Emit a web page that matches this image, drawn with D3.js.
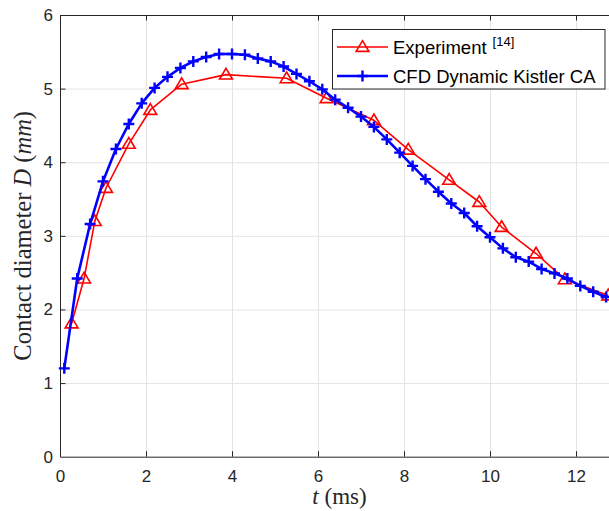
<!DOCTYPE html>
<html>
<head>
<meta charset="utf-8">
<script src="https://cdn.jsdelivr.net/npm/d3@7"></script>
<style>
  html, body { margin: 0; padding: 0; background: #fff; }
  svg { display: block; }
</style>
</head>
<body>
<svg id="chart" width="609" height="511"></svg>
<script>
// ---- data ----
const expT = [0.27, 0.56, 0.81, 1.07, 1.60, 2.10, 2.83, 3.86, 5.27, 6.20, 7.30, 8.10, 9.05, 9.75, 10.27, 11.07, 11.74, 12.75];
const expD = [1.81, 2.42, 3.20, 3.65, 4.25, 4.71, 5.06, 5.19, 5.14, 4.87, 4.57, 4.17, 3.76, 3.46, 3.12, 2.76, 2.41, 2.19];

const cfdT = [0.1, 0.4, 0.7, 1.0, 1.3, 1.6, 1.9, 2.2, 2.5, 2.8, 3.1, 3.4, 3.7, 4.0, 4.3, 4.6, 4.9, 5.2, 5.5, 5.8, 6.1, 6.4, 6.7, 7.0, 7.3, 7.6, 7.9, 8.2, 8.5, 8.8, 9.1, 9.4, 9.7, 10.0, 10.3, 10.6, 10.9, 11.2, 11.5, 11.8, 12.1, 12.4, 12.7];
const cfdD = [1.20, 2.42, 3.16, 3.74, 4.18, 4.52, 4.80, 5.01, 5.16, 5.28, 5.37, 5.43, 5.47, 5.47, 5.46, 5.41, 5.37, 5.30, 5.20, 5.10, 4.99, 4.85, 4.74, 4.62, 4.48, 4.31, 4.13, 3.95, 3.77, 3.60, 3.44, 3.31, 3.13, 2.98, 2.83, 2.71, 2.65, 2.55, 2.49, 2.42, 2.32, 2.24, 2.17];

const xTicks = [0, 2, 4, 6, 8, 10, 12];
const yTicks = [0, 1, 2, 3, 4, 5, 6];
const seriesNames = ["Experiment", "CFD Dynamic Kistler CA"];
const expRef = "[14]";

// ---- layout ----
const svg = d3.select("#chart");
const L = 60, R = 619, T = 15, B = 456.7;
const x = d3.scaleLinear().domain([0, 13]).range([L, R]);
const y = d3.scaleLinear().domain([0, 6]).range([B, T]);
const axisColor = "#262626";
const tickFont = "'Liberation Sans', Arial, Helvetica, sans-serif";
const serif = "'Liberation Serif', 'Times New Roman', serif";

// grid
const gx = svg.append("g").attr("transform", `translate(0,${B})`)
  .call(d3.axisBottom(x).tickValues(xTicks.slice(1)).tickSize(-(B - T)).tickFormat(""));
const gy = svg.append("g").attr("transform", `translate(${L},0)`)
  .call(d3.axisLeft(y).tickValues(yTicks.slice(1, -1)).tickSize(-(R - L)).tickFormat(""));
[gx, gy].forEach(g => {
  g.select(".domain").remove();
  g.selectAll("line").attr("stroke", "#e3e3e3").attr("stroke-width", 1);
});

// axes
const tk = 5.5;
const xAxis = svg.append("g").attr("transform", `translate(0,${B})`)
  .call(d3.axisBottom(x).tickValues(xTicks).tickSize(-tk).tickSizeOuter(0).tickPadding(13).tickFormat(d3.format("d")));
const xTop = svg.append("g").attr("transform", `translate(0,${T})`)
  .call(d3.axisTop(x).tickValues(xTicks).tickSize(-tk).tickSizeOuter(0).tickFormat(""));
const yAxis = svg.append("g").attr("transform", `translate(${L},0)`)
  .call(d3.axisLeft(y).tickValues(yTicks).tickSize(-tk).tickSizeOuter(0).tickPadding(7).tickFormat(d3.format("d")));
[xAxis, xTop, yAxis].forEach(g => {
  g.select(".domain").attr("stroke", axisColor).attr("stroke-width", 1);
  g.selectAll(".tick line").attr("stroke", axisColor).attr("stroke-width", 1);
  g.selectAll("text").attr("fill", axisColor).style("font-family", tickFont).style("font-size", "17px");
});
xAxis.selectAll(".tick").filter(d => d === 0).select("line").remove();
yAxis.selectAll(".tick").filter(d => d === 0 || d === 6).select("line").remove();

// axis titles
const xt = svg.append("text")
  .attr("x", (L + R) / 2).attr("y", 504)
  .attr("text-anchor", "middle")
  .style("font-family", serif).style("font-size", "23px").attr("fill", axisColor);
xt.append("tspan").attr("font-style", "italic").text("t");
xt.append("tspan").text(" (ms)");

const yt = svg.append("text")
  .attr("transform", `translate(31,${(T + B) / 2}) rotate(-90)`)
  .attr("text-anchor", "middle")
  .style("font-family", serif).style("font-size", "24.5px").attr("fill", axisColor);
yt.append("tspan").text("Contact diameter ");
yt.append("tspan").attr("font-style", "italic").text("D");
yt.append("tspan").text(" (");
yt.append("tspan").attr("font-style", "italic").text("mm");
yt.append("tspan").text(")");

// markers
const triPath = "M0,-6.3 L6.4,4.4 L-6.4,4.4 Z";
const plusPath = "M-5.5,0 L5.5,0 M0,-5.5 L0,5.5";

// series lines
const expData = expT.map((t, i) => [t, expD[i]]);
const cfdData = cfdT.map((t, i) => [t, cfdD[i]]);
const line = d3.line().x(d => x(d[0])).y(d => y(d[1]));

svg.append("path").datum(expData).attr("d", line)
  .attr("fill", "none").attr("stroke", "#ff0000").attr("stroke-width", 1.6).attr("stroke-linejoin", "round");
svg.append("g").selectAll("path").data(expData).join("path")
  .attr("transform", d => `translate(${x(d[0])},${y(d[1])})`)
  .attr("d", triPath).attr("fill", "none").attr("stroke", "#ff0000").attr("stroke-width", 1.6);

svg.append("path").datum(cfdData).attr("d", line)
  .attr("fill", "none").attr("stroke", "#0000ff").attr("stroke-width", 2.6).attr("stroke-linejoin", "round");
svg.append("g").selectAll("path").data(cfdData).join("path")
  .attr("transform", d => `translate(${x(d[0])},${y(d[1])})`)
  .attr("d", plusPath).attr("fill", "none").attr("stroke", "#0000ff").attr("stroke-width", 2.4);

// legend
const lg = svg.append("g");
lg.append("rect").attr("x", 332.5).attr("y", 29.5).attr("width", 272.5).attr("height", 59.5)
  .attr("fill", "#fff").attr("stroke", axisColor).attr("stroke-width", 1);
const rows = [
  { y: 47, color: "#ff0000", w: 1.6, mk: triPath, fillNone: true },
  { y: 76, color: "#0000ff", w: 2.6, mk: plusPath, fillNone: true }
];
rows.forEach((r, i) => {
  lg.append("line").attr("x1", 337).attr("x2", 388).attr("y1", r.y).attr("y2", r.y)
    .attr("stroke", r.color).attr("stroke-width", r.w);
  lg.append("path").attr("transform", `translate(362.5,${r.y})`).attr("d", r.mk)
    .attr("fill", "none").attr("stroke", r.color).attr("stroke-width", i === 0 ? 1.6 : 2.4);
  const t = lg.append("text").attr("x", 393).attr("y", r.y + 6.5)
    .style("font-family", tickFont).style("font-size", "18.5px").attr("fill", "#000");
  t.append("tspan").text(seriesNames[i]);
  if (i === 0) {
    t.append("tspan").attr("dx", 6).attr("dy", -8).style("font-size", "13px").text(expRef);
  }
});
</script>
</body>
</html>
